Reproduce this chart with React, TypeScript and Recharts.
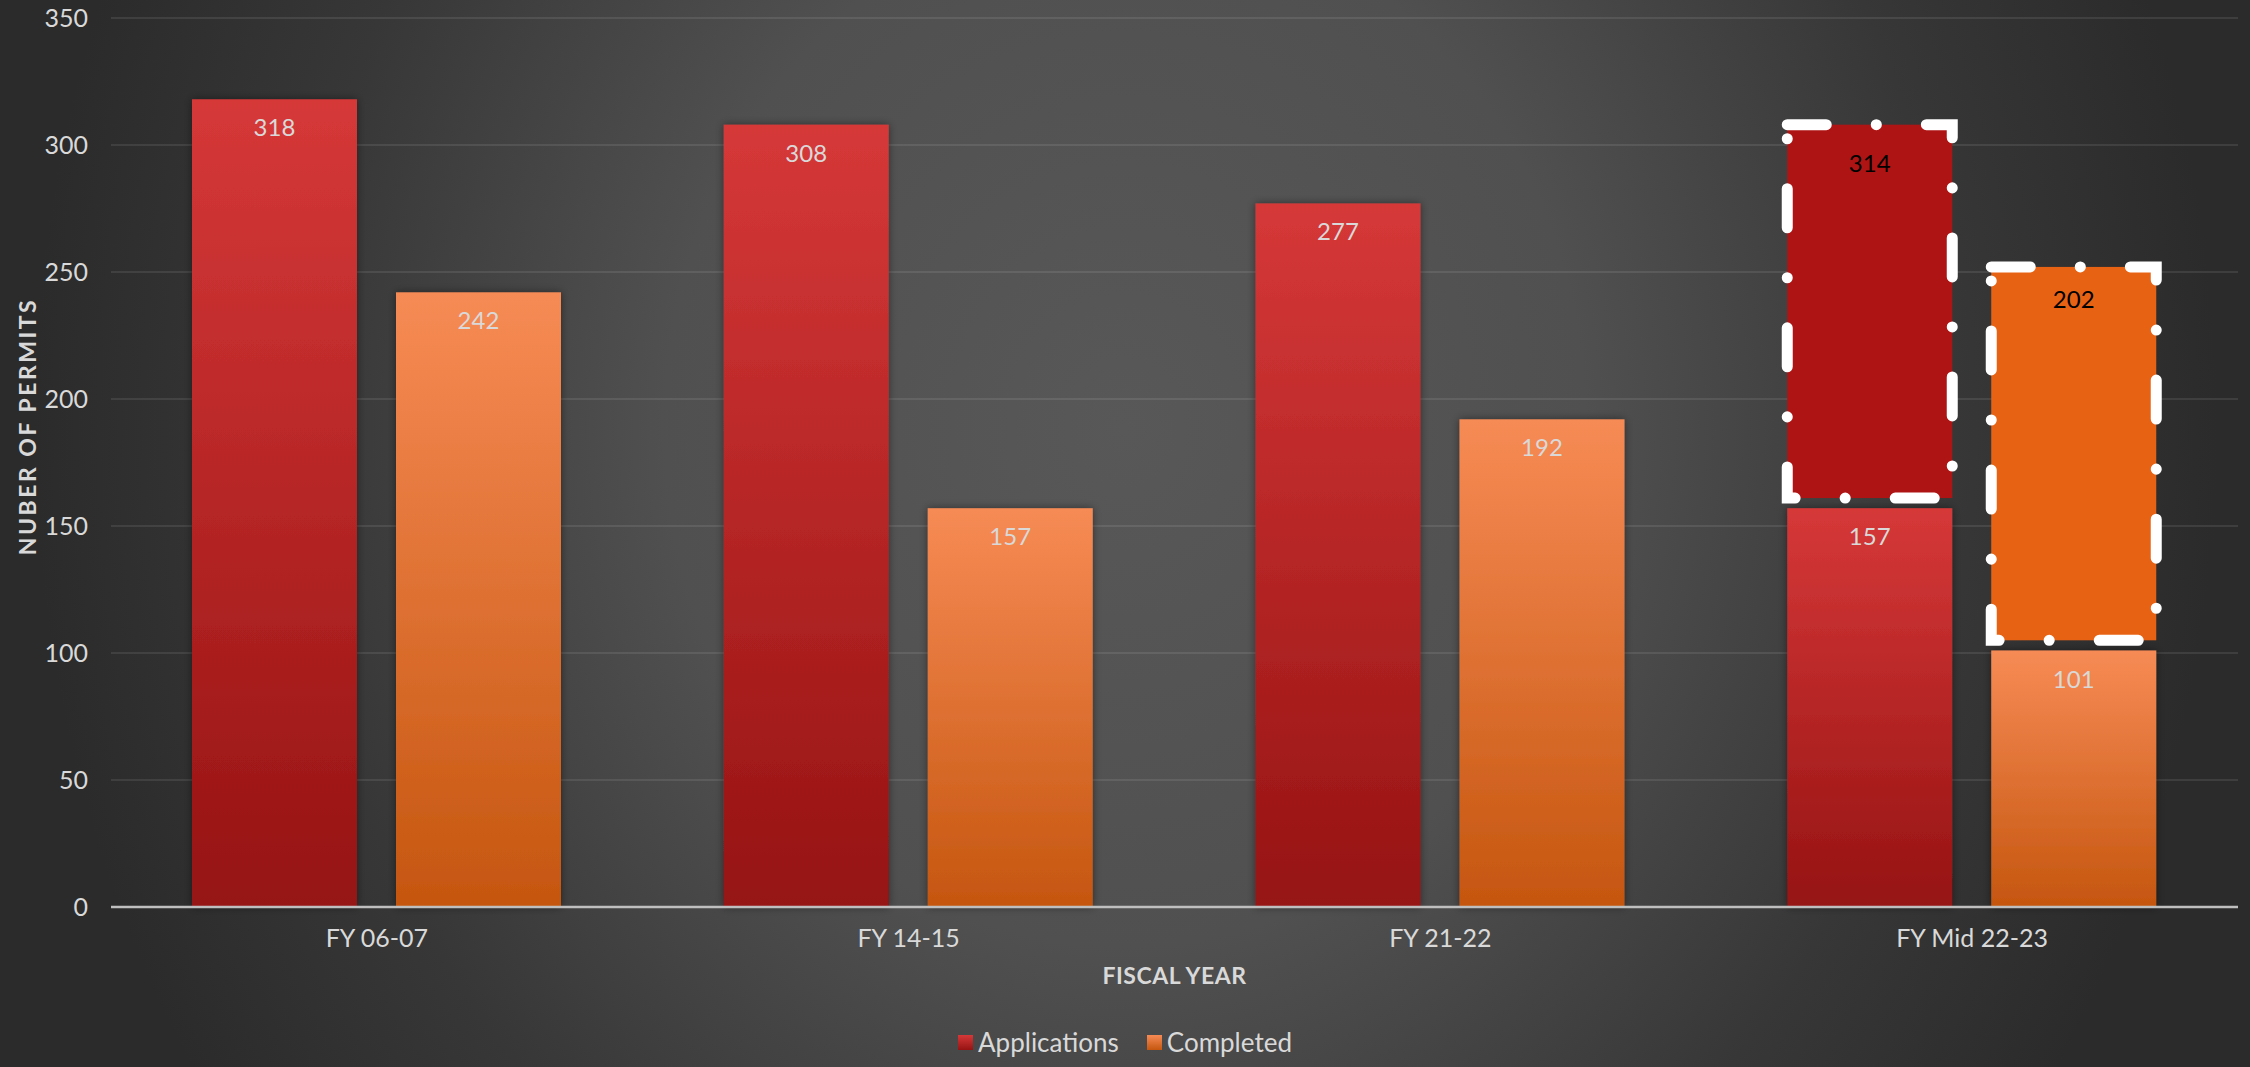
import React from "react";
import {
  BarChart,
  Bar,
  XAxis,
  YAxis,
  CartesianGrid,
  Legend,
  LabelList,
} from "recharts";

const categories = ["FY 06-07", "FY 14-15", "FY 21-22", "FY Mid 22-23"];
const applications = [318, 308, 277, 157];
const completed = [242, 157, 192, 101];
// projected remainder of the mid-year, drawn as a dashed box above the actuals
const applicationsGap = [0, 0, 0, 4];
const applicationsProjected = [0, 0, 0, 147];
const applicationsProjectedLabel = [null, null, null, 314];
const completedGap = [0, 0, 0, 4];
const completedProjected = [0, 0, 0, 147];
const completedProjectedLabel = [null, null, null, 202];
const yTicks = [0, 50, 100, 150, 200, 250, 300, 350];

const FONT = "Lato, 'Open Sans', sans-serif";
const TEXT = "#d9d9d9";

const data = categories.map((c, i) => ({
  name: c,
  app: applications[i],
  appGap: applicationsGap[i],
  appProj: applicationsProjected[i],
  appProjLabel: applicationsProjectedLabel[i],
  comp: completed[i],
  compGap: completedGap[i],
  compProj: completedProjected[i],
  compProjLabel: completedProjectedLabel[i],
}));

function ShadowBar(props: any) {
  const { x, y, width, height, fill } = props;
  if (!height || height <= 0) return <g />;
  return <rect x={x} y={y} width={width} height={height} fill={fill} filter="url(#barShadow)" />;
}

function EmptyBar() {
  return <g />;
}

function DashedBar(props: any) {
  const { x, y, width, height, fill } = props;
  if (!height || height <= 0) return <g />;
  return (
    <rect
      x={x}
      y={y}
      width={width}
      height={height}
      fill={fill}
      stroke="#ffffff"
      strokeWidth={11}
      strokeLinecap="round"
      strokeDasharray="39 50 0.1 50"
    />
  );
}

function YTitle(props: any) {
  const vb = props.viewBox || {};
  const cy = vb.y + vb.height / 2 - 36;
  return (
    <text
      x={27}
      y={cy}
      transform={`rotate(-90, 27, ${cy})`}
      textAnchor="middle"
      dominantBaseline="central"
      fill={TEXT}
      fontFamily={FONT}
      fontWeight={700}
      fontSize={23}
      letterSpacing={2.5}
    >
      NUBER OF PERMITS
    </text>
  );
}

function XTitle(props: any) {
  const vb = props.viewBox || {};
  return (
    <text
      x={vb.x + vb.width / 2}
      y={vb.y + 77}
      textAnchor="middle"
      fill={TEXT}
      fontFamily={FONT}
      fontWeight={700}
      fontSize={23}
      letterSpacing={0.5}
    >
      FISCAL YEAR
    </text>
  );
}

function LegendContent() {
  const items = [
    { label: "Applications", grad: "url(#legApp)" },
    { label: "Completed", grad: "url(#legComp)" },
  ];
  return (
    <div style={{ display: "flex", justifyContent: "center", gap: 28, fontFamily: FONT, fontSize: 26, color: TEXT }}>
      {items.map((it) => (
        <div key={it.label} style={{ display: "flex", alignItems: "center", gap: 5 }}>
          <svg width={15} height={15}>
            <rect width={15} height={15} fill={it.grad} />
          </svg>
          <span>{it.label}</span>
        </div>
      ))}
    </div>
  );
}

export default function App() {
  return (
    <div
      style={{
        position: "absolute",
        left: 0,
        top: 0,
        width: 2250,
        height: 1067,
        background:
          "radial-gradient(ellipse 1150px 1300px at 50% 40%, #585858 0%, #505050 40%, #373737 72%, #2b2b2b 95%)",
      }}
    >
      <svg width={0} height={0} style={{ position: "absolute" }}>
        <defs>
          <linearGradient id="legApp" x1="0" y1="0" x2="0" y2="1">
            <stop offset="0%" stopColor="#d63838" />
            <stop offset="100%" stopColor="#961313" />
          </linearGradient>
          <linearGradient id="legComp" x1="0" y1="0" x2="0" y2="1">
            <stop offset="0%" stopColor="#f78b55" />
            <stop offset="100%" stopColor="#c5560f" />
          </linearGradient>
        </defs>
      </svg>
      <BarChart
        width={2250}
        height={1067}
        data={data}
        margin={{ top: 18, right: 12, bottom: 20, left: 0 }}
        barSize={165}
        barGap={39}
      >
        <defs>
          <linearGradient id="gradApp" x1="0" y1="0" x2="0" y2="1">
            <stop offset="0%" stopColor="#d63838" />
            <stop offset="100%" stopColor="#961313" />
          </linearGradient>
          <linearGradient id="gradComp" x1="0" y1="0" x2="0" y2="1">
            <stop offset="0%" stopColor="#f78b55" />
            <stop offset="100%" stopColor="#c5560f" />
          </linearGradient>
          <filter id="barShadow" x="-20%" y="-20%" width="140%" height="140%">
            <feDropShadow dx="0" dy="0" stdDeviation="4" floodColor="#000" floodOpacity="0.45" />
          </filter>
        </defs>
        <CartesianGrid vertical={false} stroke="rgba(255,255,255,0.09)" strokeWidth={2} />
        <XAxis
          dataKey="name"
          height={140}
          tickLine={false}
          axisLine={{ stroke: "#bfbfbf", strokeWidth: 2.5 }}
          tickSize={6}
          tickMargin={16}
          tick={{ fill: TEXT, fontFamily: FONT, fontSize: 25 }}
          label={<XTitle />}
        />
        <YAxis
          width={111}
          domain={[0, 350]}
          ticks={yTicks}
          tickLine={false}
          axisLine={false}
          tickSize={6}
          tickMargin={17}
          tick={{ fill: TEXT, fontFamily: FONT, fontSize: 25 }}
          label={<YTitle />}
        />
        <Legend
          layout="horizontal"
          verticalAlign="middle"
          align="center"
          content={<LegendContent />}
          wrapperStyle={{ position: "absolute", top: 1026, left: 0, width: 2250 }}
        />
        <Bar dataKey="app" stackId="a" fill="url(#gradApp)" shape={<ShadowBar />} isAnimationActive={false}>
          <LabelList dataKey="app" position="insideTop" offset={20} fill={TEXT} fontFamily={FONT} fontSize={24} />
        </Bar>
        <Bar dataKey="appGap" stackId="a" fill="transparent" shape={<EmptyBar />} isAnimationActive={false} />
        <Bar dataKey="appProj" stackId="a" fill="#ae1414" shape={<DashedBar />} isAnimationActive={false}>
          <LabelList dataKey="appProjLabel" position="insideTop" offset={30} fill="#000" fontFamily={FONT} fontSize={24} />
        </Bar>
        <Bar dataKey="comp" stackId="c" fill="url(#gradComp)" shape={<ShadowBar />} isAnimationActive={false}>
          <LabelList dataKey="comp" position="insideTop" offset={20} fill={TEXT} fontFamily={FONT} fontSize={24} />
        </Bar>
        <Bar dataKey="compGap" stackId="c" fill="transparent" shape={<EmptyBar />} isAnimationActive={false} />
        <Bar dataKey="compProj" stackId="c" fill="#e86214" shape={<DashedBar />} isAnimationActive={false}>
          <LabelList dataKey="compProjLabel" position="insideTop" offset={24} fill="#000" fontFamily={FONT} fontSize={24} />
        </Bar>
      </BarChart>
    </div>
  );
}
